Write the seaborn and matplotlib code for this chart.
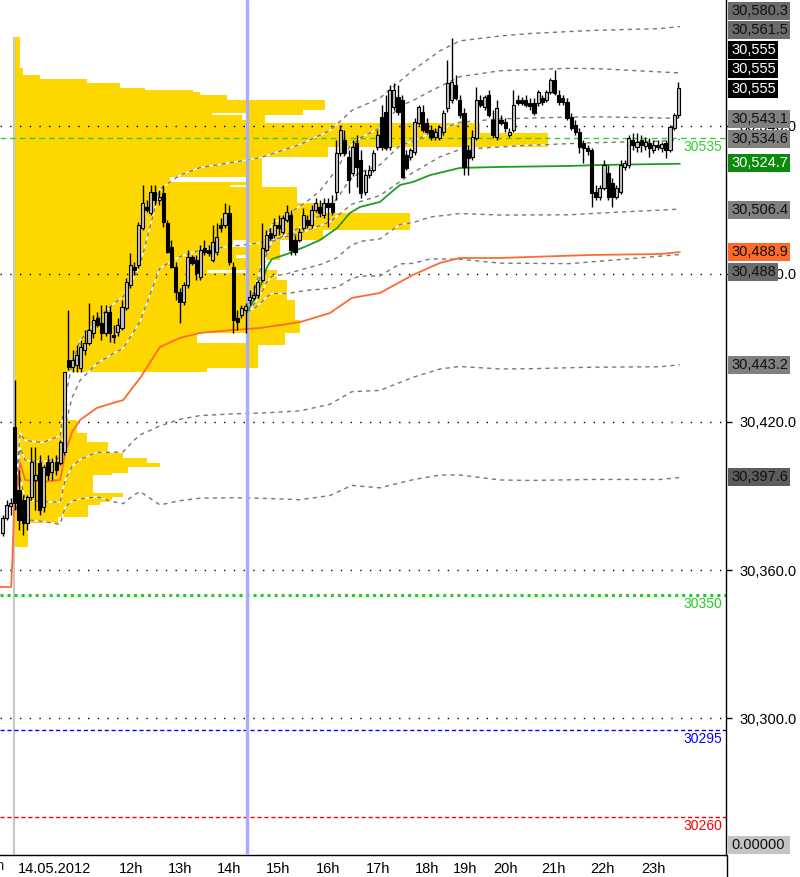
import numpy as np
import matplotlib
matplotlib.use('Agg')
import matplotlib.pyplot as plt
import matplotlib.transforms as mtrans
from matplotlib.patches import Rectangle
from matplotlib.lines import Line2D
import seaborn as sns

# 5 minute candles, x = bar number
opens = [30375.0, 30381.1, 30386.0, 30418.0, 30392.5, 30388.4, 30379.1, 30389.6, 30396.5, 30403.4,
         30385.6, 30403.8, 30399.8, 30403.8, 30403.4, 30407.9, 30445.2, 30442.3, 30443.1, 30441.9,
         30449.2, 30452.0, 30456.1, 30462.2, 30460.2, 30456.1, 30464.6, 30455.3, 30456.5, 30458.1,
         30466.2, 30475.6, 30482.9, 30483.7, 30498.7, 30507.2, 30504.7, 30513.3, 30510.0, 30512.9,
         30500.7, 30491.0, 30482.9, 30472.7, 30468.7, 30475.6, 30486.9, 30485.7, 30478.8, 30490.6,
         30489.8, 30485.7, 30489.0, 30499.9, 30499.9, 30504.7, 30482.9, 30462.2, 30463.4, 30465.4,
         30469.5, 30470.3, 30471.5, 30477.6, 30489.8, 30496.6, 30495.8, 30499.9, 30497.1, 30501.9,
         30503.9, 30493.8, 30493.8, 30498.7, 30501.9, 30499.9, 30506.0, 30507.2, 30503.9, 30508.8,
         30508.8, 30513.3, 30529.1, 30534.3, 30527.5, 30521.0, 30533.1, 30526.2, 30513.3, 30520.2,
         30522.2, 30531.5, 30543.7, 30545.7, 30531.5, 30547.7, 30551.8, 30550.6, 30528.3, 30527.5,
         30529.5, 30541.2, 30545.7, 30541.2, 30538.4, 30535.6, 30535.2, 30537.6, 30547.3, 30550.6,
         30556.6, 30550.6, 30545.3, 30530.3, 30527.5, 30535.2, 30550.6, 30547.7, 30552.6, 30542.4,
         30535.6, 30542.4, 30541.6, 30536.4, 30538.4, 30550.6, 30550.6, 30550.6, 30549.3, 30549.3,
         30549.3, 30551.4, 30550.6, 30553.8, 30558.7, 30552.6, 30551.4, 30549.8, 30543.7, 30540.4,
         30537.6, 30533.1, 30531.1, 30530.3, 30513.3, 30511.2, 30514.9, 30521.0, 30516.9, 30511.2,
         30513.3, 30523.4, 30524.2, 30534.3, 30531.5, 30534.3, 30531.9, 30533.1, 30530.3, 30532.3,
         30531.1, 30533.1, 30530.3, 30539.2, 30544.5]
highs = [30382.3, 30388.4, 30389.2, 30437.0, 30400.6, 30390.4, 30390.4, 30409.9, 30409.9, 30406.6,
         30402.6, 30406.6, 30405.4, 30406.6, 30412.7, 30440.3, 30465.4, 30449.2, 30451.2, 30453.3,
         30457.3, 30468.3, 30463.4, 30464.6, 30467.5, 30467.5, 30467.0, 30459.3, 30462.2, 30469.5,
         30478.4, 30488.5, 30484.9, 30501.1, 30516.1, 30510.0, 30516.1, 30516.1, 30514.1, 30516.1,
         30501.9, 30493.8, 30484.9, 30474.3, 30476.8, 30489.8, 30487.7, 30487.7, 30491.8, 30493.8,
         30491.8, 30499.9, 30500.7, 30502.7, 30508.8, 30508.0, 30484.9, 30465.4, 30467.5, 30468.3,
         30473.5, 30475.6, 30477.6, 30500.7, 30497.9, 30498.7, 30502.7, 30503.9, 30503.9, 30508.0,
         30506.0, 30495.8, 30498.7, 30506.8, 30503.9, 30508.0, 30510.8, 30510.0, 30510.8, 30510.8,
         30512.0, 30534.3, 30540.4, 30538.4, 30530.3, 30534.3, 30536.4, 30530.3, 30522.2, 30524.2,
         30530.3, 30538.4, 30548.5, 30552.6, 30556.6, 30557.5, 30556.6, 30552.6, 30530.3, 30531.1,
         30543.3, 30548.5, 30548.5, 30543.3, 30540.4, 30539.2, 30540.4, 30546.5, 30566.8, 30575.7,
         30560.7, 30552.6, 30547.3, 30532.3, 30538.4, 30555.8, 30552.6, 30552.6, 30554.6, 30546.5,
         30550.6, 30544.5, 30543.3, 30539.2, 30554.6, 30552.6, 30551.8, 30552.6, 30551.4, 30551.4,
         30554.6, 30552.6, 30554.6, 30559.5, 30562.7, 30554.6, 30552.6, 30551.4, 30545.3, 30542.4,
         30539.2, 30534.3, 30532.3, 30531.1, 30516.1, 30516.1, 30526.2, 30524.2, 30518.9, 30516.1,
         30526.2, 30526.2, 30536.4, 30537.2, 30537.2, 30536.4, 30535.6, 30535.2, 30534.3, 30534.3,
         30533.5, 30534.3, 30540.4, 30545.3, 30557.9]
lows = [30373.8, 30380.3, 30382.3, 30384.3, 30376.2, 30374.2, 30376.2, 30388.4, 30384.3, 30382.3,
        30383.5, 30396.5, 30396.5, 30398.5, 30402.6, 30406.6, 30441.1, 30440.3, 30440.3, 30440.3,
        30447.2, 30451.2, 30454.1, 30458.5, 30453.3, 30454.9, 30452.5, 30452.0, 30454.9, 30457.3,
        30465.4, 30474.3, 30479.6, 30482.5, 30497.9, 30505.2, 30503.9, 30508.0, 30508.0, 30499.1,
        30488.5, 30482.5, 30469.5, 30460.2, 30467.5, 30474.3, 30483.7, 30477.6, 30477.6, 30487.7,
        30487.3, 30484.9, 30487.7, 30497.1, 30498.7, 30483.7, 30456.1, 30457.3, 30462.2, 30456.1,
        30467.5, 30469.5, 30470.3, 30476.8, 30489.0, 30493.8, 30494.6, 30495.8, 30496.2, 30501.1,
        30487.7, 30487.7, 30493.0, 30497.9, 30498.7, 30498.7, 30505.2, 30503.1, 30502.7, 30499.1,
        30503.9, 30510.0, 30527.9, 30528.3, 30512.9, 30519.8, 30515.3, 30510.8, 30512.0, 30518.9,
        30521.4, 30530.3, 30530.3, 30530.3, 30530.3, 30546.5, 30544.5, 30518.9, 30522.2, 30526.2,
        30528.3, 30540.4, 30537.6, 30537.2, 30534.3, 30534.3, 30534.3, 30536.4, 30545.7, 30549.3,
        30550.6, 30543.3, 30520.2, 30520.2, 30526.2, 30534.3, 30547.7, 30546.5, 30543.7, 30535.2,
        30534.3, 30540.4, 30537.6, 30535.6, 30537.6, 30548.5, 30548.5, 30547.7, 30546.5, 30544.5,
        30548.1, 30548.5, 30549.8, 30553.0, 30552.6, 30548.5, 30548.5, 30542.4, 30538.4, 30536.4,
        30529.1, 30525.0, 30528.3, 30507.2, 30510.0, 30510.0, 30514.1, 30510.0, 30507.2, 30510.4,
        30512.5, 30522.2, 30523.0, 30530.3, 30529.5, 30529.5, 30530.3, 30527.5, 30529.1, 30530.3,
        30529.5, 30527.0, 30529.5, 30538.4, 30543.3]
closes = [30381.1, 30386.4, 30387.2, 30387.2, 30380.3, 30379.1, 30389.6, 30403.8, 30398.5, 30384.3,
          30401.8, 30398.5, 30403.8, 30400.6, 30411.9, 30440.3, 30442.3, 30445.2, 30447.2, 30450.4,
          30452.0, 30457.3, 30461.4, 30459.3, 30456.1, 30464.6, 30456.1, 30454.5, 30459.3, 30466.6,
          30476.8, 30483.7, 30481.7, 30499.9, 30508.8, 30506.0, 30513.3, 30510.0, 30511.2, 30501.1,
          30489.0, 30482.9, 30472.7, 30468.7, 30475.6, 30486.9, 30484.5, 30480.4, 30489.8, 30489.0,
          30488.5, 30493.0, 30495.0, 30498.7, 30504.7, 30484.9, 30461.4, 30460.6, 30466.2, 30467.0,
          30470.7, 30471.5, 30476.8, 30490.6, 30495.8, 30494.6, 30499.9, 30498.7, 30502.7, 30505.2,
          30489.8, 30489.0, 30497.1, 30503.9, 30499.9, 30506.0, 30508.8, 30504.7, 30508.8, 30507.2,
          30505.2, 30529.1, 30538.4, 30529.1, 30518.1, 30531.5, 30523.4, 30512.9, 30520.2, 30522.2,
          30529.1, 30536.4, 30531.5, 30531.1, 30554.6, 30554.6, 30545.7, 30519.4, 30523.0, 30530.3,
          30541.6, 30547.7, 30538.4, 30537.6, 30535.6, 30537.6, 30539.6, 30545.3, 30557.5, 30557.9,
          30551.4, 30544.5, 30523.4, 30527.0, 30535.6, 30550.6, 30548.5, 30551.8, 30544.5, 30536.4,
          30547.3, 30541.2, 30539.2, 30537.6, 30548.5, 30549.3, 30549.3, 30548.5, 30548.1, 30545.3,
          30553.8, 30549.8, 30553.8, 30558.7, 30553.4, 30549.8, 30549.8, 30543.3, 30539.2, 30537.6,
          30531.5, 30531.1, 30529.9, 30512.9, 30511.2, 30514.9, 30524.2, 30511.2, 30511.2, 30514.9,
          30524.2, 30525.0, 30535.2, 30532.3, 30533.5, 30532.3, 30533.5, 30531.1, 30532.3, 30531.5,
          30532.7, 30530.3, 30539.6, 30544.5, 30555.4]

hour_ticks = [2.8, 27.3, 39.2, 51.1, 63.0, 75.1, 87.3, 99.2, 108.4, 118.1, 129.7, 141.8, 154.0]
hour_labels = ['14.05.2012', '12h', '13h', '14h', '15h', '16h', '17h', '18h', '19h', '20h',
               '21h', '22h', '23h']

# day VWAP (orange) and its deviation
vwap1_x = [-0.6, 2.1, 2.4, 2.8, 3.3, 4.3, 5.5, 9.8, 14.0, 15.2, 16.9, 18.8, 22.9, 26.8, 29.3,
           31.7, 33.4, 38.2, 43.1, 47.9, 56.0, 62.5, 72.2, 79.5, 84.8, 91.6, 99.6, 106.2,
           111.0, 120.8, 128.0, 142.6, 159.6, 164.4]
vwap1 = [30353.1, 30353.1, 30364.1, 30384.3, 30390.4, 30403.4, 30396.5, 30395.7, 30396.5,
         30407.4, 30416.0, 30420.8, 30425.7, 30427.7, 30428.9, 30434.2, 30437.8, 30450.4,
         30454.1, 30456.1, 30457.3, 30458.1, 30460.5, 30464.2, 30470.3, 30472.3, 30479.6,
         30484.5, 30486.5, 30486.5, 30486.9, 30487.7, 30488.1, 30488.9]
vwap1_sd = [np.nan, np.nan, np.nan, np.nan, 3, 6, 8, 8, 9, 11, 14, 16, 18, 20, 21, 22, 23, 32,
            33, 33.5, 34, 34.5, 36, 37, 38, 39.5, 41.5, 43, 44, 45, 45.3, 45.5, 45.7, 45.7]

# US session VWAP (green) and its deviation
vwap2_x = [59.35, 61.3, 63.0, 64.2, 65.4, 69.1, 73.9, 77.1, 81.2, 84.3, 86.8, 91.6, 94.1, 96.5,
           99.6, 103.8, 111.0, 120.8, 137.7, 145.0, 164.4]
vwap2 = [30464.6, 30470.3, 30476.8, 30482.8, 30486.1, 30488.1, 30491.4, 30493.8, 30498.6,
         30504.7, 30507.2, 30509.2, 30512.8, 30516.1, 30517.3, 30520.1, 30523.0, 30523.4,
         30523.8, 30524.2, 30524.7]
vwap2_sd = [0, 2, 4, 6, 7, 8, 9, 10, 12, 13.5, 14, 15, 15.5, 16, 16.5, 17, 18.5, 19.5, 19.8,
            19.5, 18.4]

# volume profiles: price edges (top to bottom) and volume per row (in bar widths)
prof1_edges = [30576.1, 30563.5, 30560.7, 30559.1, 30557.4, 30555.4, 30554.6, 30553.8, 30552.6,
               30550.5, 30545.3, 30544.5, 30542.4, 30519.3, 30517.3, 30516.1, 30515.3, 30493.8,
               30490.9, 30487.7, 30486.5, 30481.6, 30480.4, 30456.1, 30452.0, 30441.9, 30440.3,
               30420.8, 30415.5, 30411.9, 30407.4, 30405.4, 30403.4, 30401.8, 30399.3, 30398.5,
               30391.2, 30389.6, 30387.6, 30386.4, 30381.5, 30379.1, 30369.3]
prof1_vol = [1.2, 1.9, 6.1, 17.5, 25.5, 31.6, 43.2, 44.9, 51.5, 56.3, 47.8, 55.1, 56.3, 37.6,
             56.3, 52.2, 56.3, 52.9, 56.3, 53.6, 56.3, 46.6, 56.3, 44.2, 56.3, 46.6, 12.6, 15.0,
             17.5, 22.6, 26.2, 32.0, 35.2, 27.4, 23.5, 18.9, 26.2, 23.5, 20.6, 17.7, 10.4, 3.2]
prof2_edges = [30550.5, 30546.5, 30544.5, 30541.2, 30537.2, 30531.5, 30527.4, 30515.3, 30508.8,
               30504.7, 30497.8, 30493.8, 30485.7, 30481.6, 30477.6, 30469.5, 30461.4, 30456.1,
               30451.2, 30441.9]
prof2_vol = [18.9, 13.6, 4.4, 56.6, 73.1, 19.7, 3.6, 12.1, 18.9, 39.6, 18.4, 8.0, 4.4, 7.3, 9.7,
             11.7, 12.9, 9.2, 2.7]

grid_levels = [30300, 30360, 30420, 30480, 30540]
level_vals = [30535, 30350, 30295, 30260]
level_labels = ['30535', '30350', '30295', '30260']

box_texts = ['30,580.3', '30,561.5', '30,555', '30,555', '30,555', '30,543.1', '30,534.6',
             '30,524.7', '30,506.4', '30,488.9', '30,488', '30,443.2', '30,397.6', '0.00000']

# ---- layout / style ----
W, H = 800, 877
AX_R, AX_B = 726, 855
x_lo, x_hi = -0.607, 175.6
y_lo, y_hi = 30244.46, 30591.08
prof1_start, prof2_start = 3.0, 59.35
session_line = 2.79
us_open = 59.35

box_y = [11, 30, 50, 69, 89, 119, 139, 163, 210, 252, 272, 365, 477, 845]
box_w = [62, 62, 50, 50, 50, 62, 62, 62, 62, 62, 50, 62, 62, 62]
box_fc = ['#6b6b6b', '#6b6b6b', 'black', 'black', 'black', '#808080', '#808080', '#0b8a0b',
          '#808080', '#ff6a2a', '#6b6b6b', '#808080', '#5c5c5c', '#c4c4c4']
box_tc = ['#111111', '#111111', 'white', 'white', 'white', '#111111', '#111111', 'white',
          '#111111', '#111111', '#111111', '#111111', '#111111', '#111111']

level_colors = ['#33cc33', '#22cc22', '#0000ff', '#ff0000']
level_styles = [dict(lw=1, dashes=(4, 3)), dict(lw=2.2, dashes=(1, 1.3)),
                dict(lw=1, dashes=(3, 2)), dict(lw=1, dashes=(3, 2))]

sns.set_style('white')
plt.rcParams['font.family'] = ['Liberation Sans', 'DejaVu Sans']

fig = plt.figure(figsize=(W / 100, H / 100), dpi=100)
ax = fig.add_axes([0, (H - AX_B) / H, AX_R / W, AX_B / H])
ax.set_xlim(x_lo, x_hi)
ax.set_ylim(y_lo, y_hi)

# volume profiles
for edges, vol, start in [(prof1_edges, prof1_vol, prof1_start),
                          (prof2_edges, prof2_vol, prof2_start)]:
    e = np.array(edges)
    ax.barh((e[:-1] + e[1:]) / 2, vol, height=e[:-1] - e[1:], left=start,
            color='#ffd700', linewidth=0, zorder=1)

ax.vlines(session_line, y_lo, 30576.1, color='#c8c8c8', lw=1.5, zorder=1.5)

# dotted price grid
for g in grid_levels:
    ax.axhline(g, color='black', lw=1.0, dashes=(1, 6), zorder=2)

# alert levels
for v, lab, c, st in zip(level_vals, level_labels, level_colors, level_styles):
    ax.axhline(v, color=c, zorder=2.2, **st)
    ax.annotate(lab, xy=(722 / AX_R, v), xycoords=('axes fraction', 'data'),
                xytext=(0, -6.5), textcoords='offset points', ha='right', va='center',
                color=c, fontsize=10)

# deviation bands
for bx, bv, bsd in [(vwap1_x, vwap1, vwap1_sd), (vwap2_x, vwap2, vwap2_sd)]:
    bv = np.array(bv)
    bsd = np.array(bsd, dtype=float)
    for k in (-2, -1, 1, 2):
        ax.plot(bx, bv + k * bsd, color='white', lw=1, zorder=2.5)
        ax.plot(bx, bv + k * bsd, color='#777777', lw=1, dashes=(3, 3), zorder=2.6)

ax.axvline(us_open, color='#aaaaff', lw=2.4, zorder=3)

# VWAP lines
sns.lineplot(x=vwap1_x, y=vwap1, ax=ax, color='#ff6a30', linewidth=1.3, estimator=None,
             sort=False, legend=False, zorder=4)
sns.lineplot(x=vwap2_x, y=vwap2, ax=ax, color='#1e9e1e', linewidth=1.3, estimator=None,
             sort=False, legend=False, zorder=4)

# candles
o = np.array(opens); c = np.array(closes)
idx = np.arange(len(o))
ax.vlines(idx, lows, highs, color='black', lw=1, zorder=5)
up = c >= o
ax.bar(idx[up], np.maximum(c[up] - o[up], 0.4), bottom=o[up], width=0.75, color='#c4c4c4',
       edgecolor='black', linewidth=0.8, zorder=6)
ax.bar(idx[~up], o[~up] - c[~up], bottom=c[~up], width=0.75, color='black',
       edgecolor='black', linewidth=0.8, zorder=6)

# axes
for s in ['left', 'top']:
    ax.spines[s].set_visible(False)
for s in ['right', 'bottom']:
    ax.spines[s].set_color('black')
    ax.spines[s].set_linewidth(1)
ax.yaxis.tick_right()
ax.set_yticks(grid_levels)
ax.set_yticklabels([f'{v:,.1f}' for v in grid_levels])
ax.tick_params(axis='y', length=4.5, width=1, pad=5.5, labelsize=10.5, colors='black',
               direction='out')
ax.set_xticks(hour_ticks)
ax.set_xticklabels(hour_labels)
ax.tick_params(axis='x', length=3.5, width=1, pad=1.5, labelsize=10.5, colors='black',
               direction='out')
shift = mtrans.ScaledTranslation(4 / 100, 0, fig.dpi_scale_trans)
for lab in ax.get_xticklabels():
    lab.set_horizontalalignment('left')
    lab.set_transform(lab.get_transform() + shift)
fig.text(5 / W, 1 - 866 / H, '9h', ha='right', va='center', fontsize=10.5)

fig.add_artist(Line2D([(AX_R + 0.5) / W] * 2, [0, (H - AX_B) / H], color='black', lw=1))

# price boxes on the scale
for t, yc, w, fc, tc in zip(box_texts, box_y, box_w, box_fc, box_tc):
    fig.add_artist(Rectangle((728 / W, 1 - (yc + 9) / H), w / W, 18 / H,
                             transform=fig.transFigure, facecolor=fc, edgecolor='none',
                             zorder=10))
    fig.text(731 / W, 1 - yc / H, t, color=tc, fontsize=10.5, ha='left', va='center',
             zorder=11)

fig.savefig('out.png', dpi=100)
